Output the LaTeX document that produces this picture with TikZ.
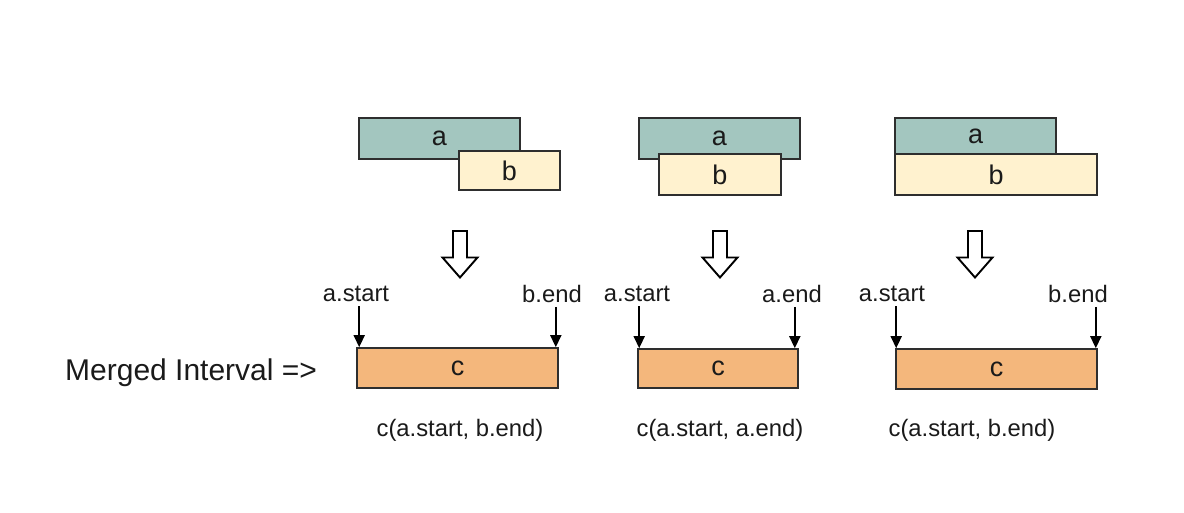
\documentclass[tikz,border=0pt]{standalone}
\usepackage{fontspec}
\setmainfont{Liberation Sans}
\usetikzlibrary{arrows.meta}
\definecolor{afill}{HTML}{A3C6BF}
\definecolor{bfill}{HTML}{FFF2CF}
\definecolor{cfill}{HTML}{F4B77C}
\definecolor{edge}{HTML}{2E2E2E}
\definecolor{txt}{HTML}{1A1A1A}
\tikzset{
  bx/.style={draw=edge, line width=1.6pt, inner sep=0pt, text=txt, font=\fontsize{27}{30}\selectfont},
  abox/.style={bx, fill=afill},
  bbox/.style={bx, fill=bfill},
  cbox/.style={bx, fill=cfill},
  lbl/.style={inner sep=0pt, text=txt, font=\fontsize{23.8}{27}\selectfont},
  arr/.style={-{Triangle[length=12pt,width=11pt]}, line width=1.6pt, draw=black},
  hollow/.style={draw=black, fill=white, line width=1.9pt, line join=miter}
}
\begin{document}
\begin{tikzpicture}[x=1pt,y=-1pt]
\useasboundingbox (0,0) rectangle (1184,512);
% group 1
\node[abox, minimum width=161pt, minimum height=41pt] (a1) at (439.5,138.5) {a};
\node[bbox, minimum width=101pt, minimum height=39pt] (b1) at (509.5,170.5) {b};
% group 2
\node[abox, minimum width=161pt, minimum height=41pt] (a2) at (719.5,138.5) {a};
\node[bbox, minimum width=122pt, minimum height=41pt] (b2) at (720,174.5) {b};
% group 3
\node[abox, minimum width=161pt, minimum height=36pt] (a3) at (975.5,136) {a};
\node[bbox, minimum width=202pt, minimum height=41pt] (b3) at (996,174.5) {b};
% hollow arrows
\foreach \X in {460,720,975}{
  \draw[hollow] (\X-7,231) -- (\X+7,231) -- (\X+7,257.5) -- (\X+17.5,257.5) -- (\X,277.5) -- (\X-17.5,257.5) -- (\X-7,257.5) -- cycle;
}
% merged boxes
\node[cbox, minimum width=201pt, minimum height=40pt] (c1) at (457.5,368) {c};
\node[cbox, minimum width=160pt, minimum height=39pt] (c2) at (718,368.5) {c};
\node[cbox, minimum width=201pt, minimum height=40pt] (c3) at (996.5,369) {c};
% labels
\node[lbl] (s1) at (356,294) {a.start};
\node[lbl] (e1) at (552,294) {b.end};
\node[lbl] (s2) at (637,294) {a.start};
\node[lbl] (e2) at (792,294) {a.end};
\node[lbl] (s3) at (892,294) {a.start};
\node[lbl] (e3) at (1078,294) {b.end};
% arrows
\draw[arr, shorten <=4pt] ([xshift=3pt]c1.north west |- s1.south) -- ([xshift=3pt]c1.north west);
\draw[arr, shorten <=4pt] ([xshift=-3pt]c1.north east |- e1.south) -- ([xshift=-3pt]c1.north east);
\draw[arr, shorten <=4pt] ([xshift=2pt]c2.north west |- s2.south) -- ([xshift=2pt]c2.north west);
\draw[arr, shorten <=4pt] ([xshift=-4pt]c2.north east |- e2.south) -- ([xshift=-4pt]c2.north east);
\draw[arr, shorten <=4pt] ([xshift=1pt]c3.north west |- s3.south) -- ([xshift=1pt]c3.north west);
\draw[arr, shorten <=4pt] ([xshift=-2pt]c3.north east |- e3.south) -- ([xshift=-2pt]c3.north east);
% results
\node[lbl] (r1) at (460,430) {c(a.start, b.end)};
\node[lbl] (r2) at (720,430) {c(a.start, a.end)};
\node[lbl] (r3) at (972,430) {c(a.start, b.end)};
\node[lbl, anchor=west, font=\fontsize{30}{34}\selectfont] (m) at (65,373) {Merged Interval =>};
\end{tikzpicture}
\end{document}
